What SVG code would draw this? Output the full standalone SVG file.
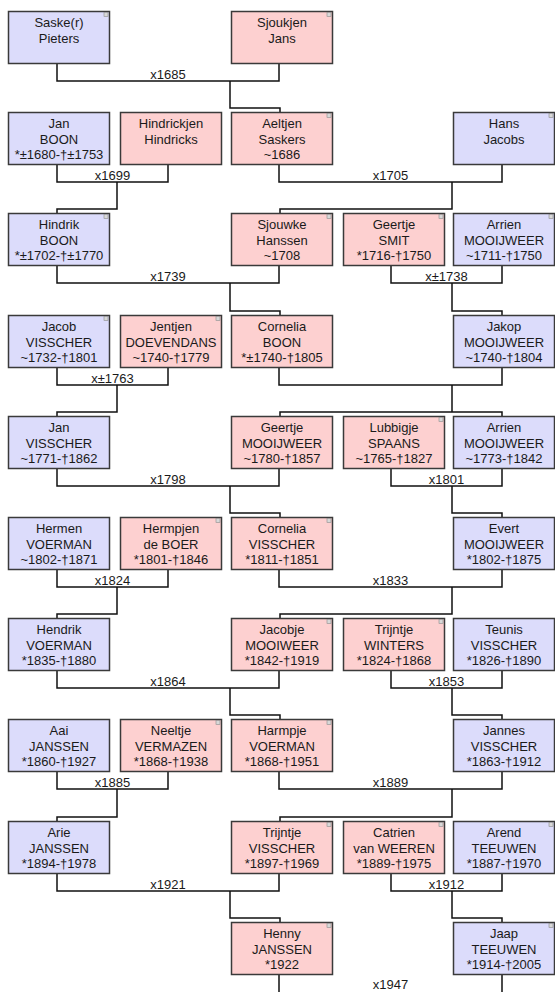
<svg xmlns="http://www.w3.org/2000/svg" width="555" height="992" viewBox="0 0 555 992">
<style>
.b{fill:#dcdcfb;stroke:#3a3a3a;stroke-width:1.5}
.p{fill:#fdd0d0;stroke:#3a3a3a;stroke-width:1.5}
.m{fill:#d8d8d8;stroke:#8a8a8a;stroke-width:0.6}
text{font-family:"Liberation Sans",Arial,sans-serif;font-size:13px;fill:#1a1a1a;text-anchor:middle}
.c path{fill:none;stroke:#111;stroke-width:1.5}
</style>
<rect width="555" height="992" fill="#fff"/>
<g class="c" id="connectors">
<path d="M57,63V81H279V63"/><path d="M230,81V108H280V112"/>
<path d="M57,164V182H168V164"/><path d="M117,182V209H57V213"/>
<path d="M279,164V182H502V164"/><path d="M452,182V209H280V213"/>
<path d="M57,265V283H279V265"/><path d="M230,283V311H280V315"/>
<path d="M391,265V283H502V265"/><path d="M452,283V311H502V315"/>
<path d="M57,367V385H168V367"/><path d="M117,385V412H57V416"/>
<path d="M279,367V385H502V367"/><path d="M452,385V412H280V416M452,412H502V416"/>
<path d="M57,468V486H279V468"/><path d="M230,486V513H280V517"/>
<path d="M391,468V486H502V468"/><path d="M452,486V513H502V517"/>
<path d="M57,569V587H168V569"/><path d="M117,587V614H57V618"/>
<path d="M279,569V587H502V569"/><path d="M452,587V614H280V618"/>
<path d="M57,670V688H279V670"/><path d="M230,688V715H280V719"/>
<path d="M391,670V688H502V670"/><path d="M452,688V715H502V719"/>
<path d="M57,771V789H168V771"/><path d="M117,789V817H57V821"/>
<path d="M279,771V789H502V771"/><path d="M452,789V817H280V821"/>
<path d="M57,873V891H279V873"/><path d="M230,891V918H280V922"/>
<path d="M391,873V891H502V873"/><path d="M452,891V918H502V922"/>
<path d="M279,974V993H502V974"/>
<g id="labels">
<text x="168" y="79">x1685</text>
<text x="112.5" y="180">x1699</text>
<text x="390.5" y="180">x1705</text>
<text x="168" y="281">x1739</text>
<text x="446.5" y="281">x±1738</text>
<text x="112.5" y="383">x±1763</text>
<text x="168" y="484">x1798</text>
<text x="446.5" y="484">x1801</text>
<text x="112.5" y="585">x1824</text>
<text x="390.5" y="585">x1833</text>
<text x="168" y="686">x1864</text>
<text x="446.5" y="686">x1853</text>
<text x="112.5" y="787">x1885</text>
<text x="390.5" y="787">x1889</text>
<text x="168" y="889">x1921</text>
<text x="446.5" y="889">x1912</text>
<text x="390.5" y="989">x1947</text>
</g>
</g>
<g id="n_saske"><rect class="b" x="8.5" y="11.5" width="101" height="52"/><rect class="m" x="104" y="12.5" width="4" height="4"/><text x="59" y="27">Saske(r)</text><text x="59" y="42.5">Pieters</text></g>
<g id="n_sjoukjen"><rect class="p" x="231.5" y="11.5" width="101" height="52"/><rect class="m" x="327" y="12.5" width="4" height="4"/><text x="282" y="27">Sjoukjen</text><text x="282" y="42.5">Jans</text></g>

<g id="n_jan_boon"><rect class="b" x="8.5" y="112.5" width="101" height="52"/><text x="59" y="128">Jan</text><text x="59" y="143.5">BOON</text><text x="59" y="159">*±1680-†±1753</text></g>
<g id="n_hindrickjen"><rect class="p" x="120.5" y="112.5" width="101" height="52"/><text x="171" y="128">Hindrickjen</text><text x="171" y="143.5">Hindricks</text></g>
<g id="n_aeltjen"><rect class="p" x="231.5" y="112.5" width="101" height="52"/><rect class="m" x="327" y="113.5" width="4" height="4"/><text x="282" y="128">Aeltjen</text><text x="282" y="143.5">Saskers</text><text x="282" y="159">~1686</text></g>
<g id="n_hans"><rect class="b" x="453.5" y="112.5" width="101" height="52"/><rect class="m" x="549" y="113.5" width="4" height="4"/><text x="504" y="128">Hans</text><text x="504" y="143.5">Jacobs</text></g>

<g id="n_hindrik"><rect class="b" x="8.5" y="213.5" width="101" height="52"/><rect class="m" x="104" y="214.5" width="4" height="4"/><text x="59" y="229">Hindrik</text><text x="59" y="244.5">BOON</text><text x="59" y="260">*±1702-†±1770</text></g>
<g id="n_sjouwke"><rect class="p" x="231.5" y="213.5" width="101" height="52"/><rect class="m" x="327" y="214.5" width="4" height="4"/><text x="282" y="229">Sjouwke</text><text x="282" y="244.5">Hanssen</text><text x="282" y="260">~1708</text></g>
<g id="n_geertje_smit"><rect class="p" x="343.5" y="213.5" width="101" height="52"/><rect class="m" x="439" y="214.5" width="4" height="4"/><text x="394" y="229">Geertje</text><text x="394" y="244.5">SMIT</text><text x="394" y="260">*1716-†1750</text></g>
<g id="n_arrien1"><rect class="b" x="453.5" y="213.5" width="101" height="52"/><rect class="m" x="549" y="214.5" width="4" height="4"/><text x="504" y="229">Arrien</text><text x="504" y="244.5">MOOIJWEER</text><text x="504" y="260">~1711-†1750</text></g>

<g id="n_jacob"><rect class="b" x="8.5" y="315.5" width="101" height="52"/><rect class="m" x="104" y="316.5" width="4" height="4"/><text x="59" y="331">Jacob</text><text x="59" y="346.5">VISSCHER</text><text x="59" y="362">~1732-†1801</text></g>
<g id="n_jentjen"><rect class="p" x="120.5" y="315.5" width="101" height="52"/><rect class="m" x="216" y="316.5" width="4" height="4"/><text x="171" y="331">Jentjen</text><text x="171" y="346.5">DOEVENDANS</text><text x="171" y="362">~1740-†1779</text></g>
<g id="n_cornelia_boon"><rect class="p" x="231.5" y="315.5" width="101" height="52"/><text x="282" y="331">Cornelia</text><text x="282" y="346.5">BOON</text><text x="282" y="362">*±1740-†1805</text></g>
<g id="n_jakop"><rect class="b" x="453.5" y="315.5" width="101" height="52"/><text x="504" y="331">Jakop</text><text x="504" y="346.5">MOOIJWEER</text><text x="504" y="362">~1740-†1804</text></g>

<g id="n_jan_visscher"><rect class="b" x="8.5" y="416.5" width="101" height="52"/><text x="59" y="432">Jan</text><text x="59" y="447.5">VISSCHER</text><text x="59" y="463">~1771-†1862</text></g>
<g id="n_geertje_m"><rect class="p" x="231.5" y="416.5" width="101" height="52"/><text x="282" y="432">Geertje</text><text x="282" y="447.5">MOOIJWEER</text><text x="282" y="463">~1780-†1857</text></g>
<g id="n_lubbigje"><rect class="p" x="343.5" y="416.5" width="101" height="52"/><rect class="m" x="439" y="417.5" width="4" height="4"/><text x="394" y="432">Lubbigje</text><text x="394" y="447.5">SPAANS</text><text x="394" y="463">~1765-†1827</text></g>
<g id="n_arrien2"><rect class="b" x="453.5" y="416.5" width="101" height="52"/><text x="504" y="432">Arrien</text><text x="504" y="447.5">MOOIJWEER</text><text x="504" y="463">~1773-†1842</text></g>

<g id="n_hermen"><rect class="b" x="8.5" y="517.5" width="101" height="52"/><text x="59" y="533">Hermen</text><text x="59" y="548.5">VOERMAN</text><text x="59" y="564">~1802-†1871</text></g>
<g id="n_hermpjen"><rect class="p" x="120.5" y="517.5" width="101" height="52"/><rect class="m" x="216" y="518.5" width="4" height="4"/><text x="171" y="533">Hermpjen</text><text x="171" y="548.5">de BOER</text><text x="171" y="564">*1801-†1846</text></g>
<g id="n_cornelia_v"><rect class="p" x="231.5" y="517.5" width="101" height="52"/><rect class="m" x="327" y="518.5" width="4" height="4"/><text x="282" y="533">Cornelia</text><text x="282" y="548.5">VISSCHER</text><text x="282" y="564">*1811-†1851</text></g>
<g id="n_evert"><rect class="b" x="453.5" y="517.5" width="101" height="52"/><text x="504" y="533">Evert</text><text x="504" y="548.5">MOOIJWEER</text><text x="504" y="564">*1802-†1875</text></g>

<g id="n_hendrik"><rect class="b" x="8.5" y="618.5" width="101" height="52"/><text x="59" y="634">Hendrik</text><text x="59" y="649.5">VOERMAN</text><text x="59" y="665">*1835-†1880</text></g>
<g id="n_jacobje"><rect class="p" x="231.5" y="618.5" width="101" height="52"/><rect class="m" x="327" y="619.5" width="4" height="4"/><text x="282" y="634">Jacobje</text><text x="282" y="649.5">MOOIWEER</text><text x="282" y="665">*1842-†1919</text></g>
<g id="n_trijntje_w"><rect class="p" x="343.5" y="618.5" width="101" height="52"/><rect class="m" x="439" y="619.5" width="4" height="4"/><text x="394" y="634">Trijntje</text><text x="394" y="649.5">WINTERS</text><text x="394" y="665">*1824-†1868</text></g>
<g id="n_teunis"><rect class="b" x="453.5" y="618.5" width="101" height="52"/><text x="504" y="634">Teunis</text><text x="504" y="649.5">VISSCHER</text><text x="504" y="665">*1826-†1890</text></g>

<g id="n_aai"><rect class="b" x="8.5" y="719.5" width="101" height="52"/><text x="59" y="735">Aai</text><text x="59" y="750.5">JANSSEN</text><text x="59" y="766">*1860-†1927</text></g>
<g id="n_neeltje"><rect class="p" x="120.5" y="719.5" width="101" height="52"/><rect class="m" x="216" y="720.5" width="4" height="4"/><text x="171" y="735">Neeltje</text><text x="171" y="750.5">VERMAZEN</text><text x="171" y="766">*1868-†1938</text></g>
<g id="n_harmpje"><rect class="p" x="231.5" y="719.5" width="101" height="52"/><rect class="m" x="327" y="720.5" width="4" height="4"/><text x="282" y="735">Harmpje</text><text x="282" y="750.5">VOERMAN</text><text x="282" y="766">*1868-†1951</text></g>
<g id="n_jannes"><rect class="b" x="453.5" y="719.5" width="101" height="52"/><text x="504" y="735">Jannes</text><text x="504" y="750.5">VISSCHER</text><text x="504" y="766">*1863-†1912</text></g>

<g id="n_arie"><rect class="b" x="8.5" y="821.5" width="101" height="52"/><text x="59" y="837">Arie</text><text x="59" y="852.5">JANSSEN</text><text x="59" y="868">*1894-†1978</text></g>
<g id="n_trijntje_v"><rect class="p" x="231.5" y="821.5" width="101" height="52"/><rect class="m" x="327" y="822.5" width="4" height="4"/><text x="282" y="837">Trijntje</text><text x="282" y="852.5">VISSCHER</text><text x="282" y="868">*1897-†1969</text></g>
<g id="n_catrien"><rect class="p" x="343.5" y="821.5" width="101" height="52"/><rect class="m" x="439" y="822.5" width="4" height="4"/><text x="394" y="837">Catrien</text><text x="394" y="852.5">van WEEREN</text><text x="394" y="868">*1889-†1975</text></g>
<g id="n_arend"><rect class="b" x="453.5" y="821.5" width="101" height="52"/><rect class="m" x="549" y="822.5" width="4" height="4"/><text x="504" y="837">Arend</text><text x="504" y="852.5">TEEUWEN</text><text x="504" y="868">*1887-†1970</text></g>

<g id="n_henny"><rect class="p" x="231.5" y="922.5" width="101" height="52"/><rect class="m" x="327" y="923.5" width="4" height="4"/><text x="282" y="938">Henny</text><text x="282" y="953.5">JANSSEN</text><text x="282" y="969">*1922</text></g>
<g id="n_jaap"><rect class="b" x="453.5" y="922.5" width="101" height="52"/><rect class="m" x="549" y="923.5" width="4" height="4"/><text x="504" y="938">Jaap</text><text x="504" y="953.5">TEEUWEN</text><text x="504" y="969">*1914-†2005</text></g>
</svg>
